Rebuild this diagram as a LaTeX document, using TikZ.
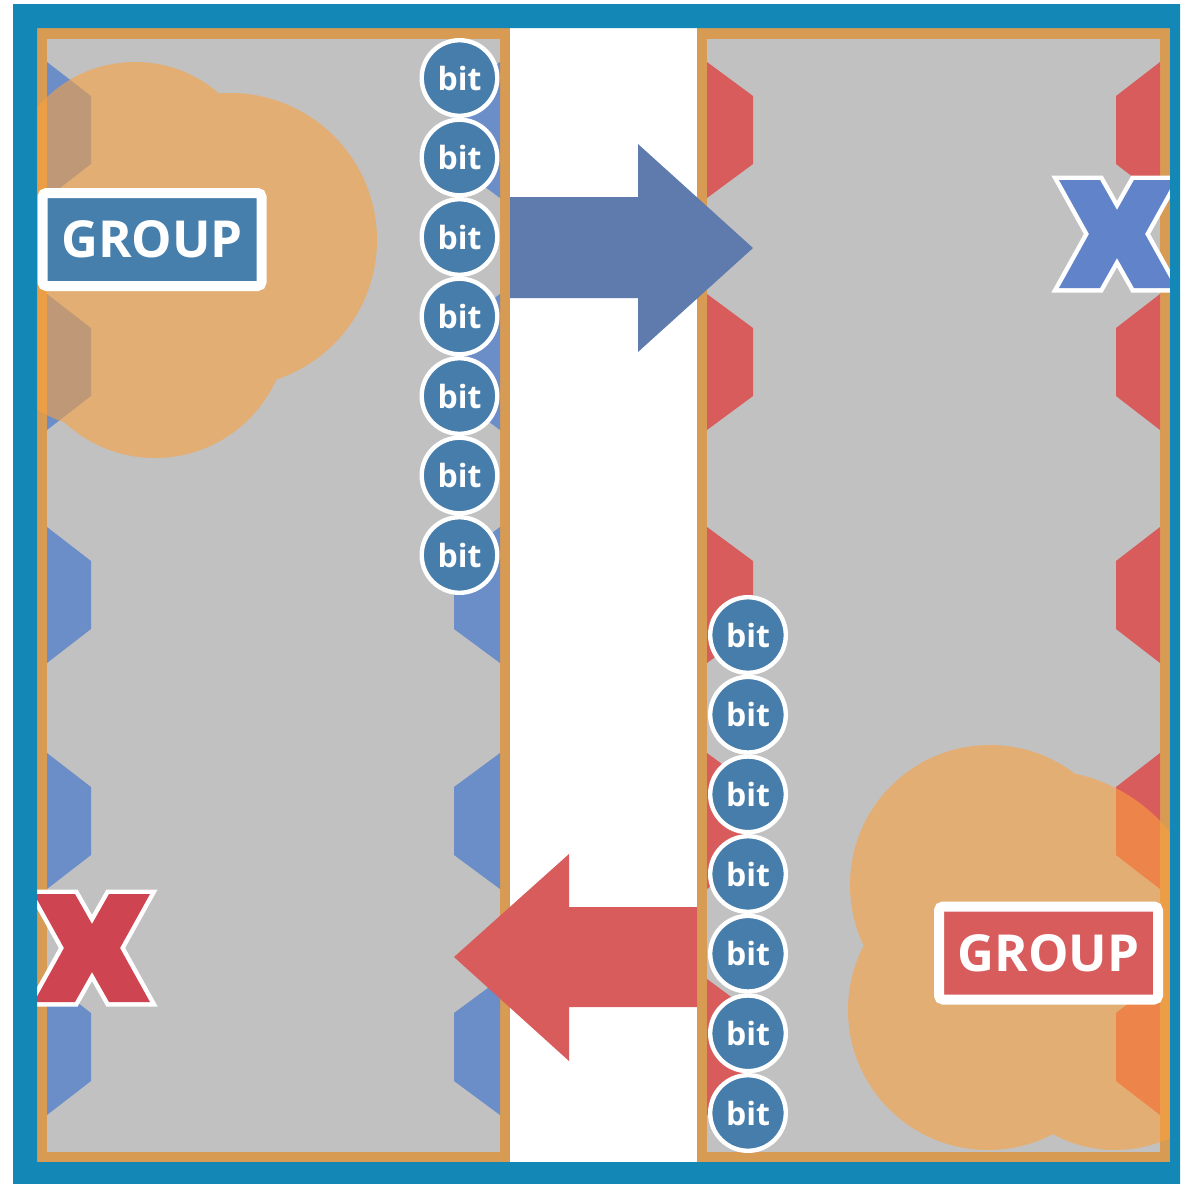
\documentclass[tikz,border=0pt]{standalone}
\usepackage{fontspec}
\setmainfont{Open Sans}
\definecolor{rahmenblau}{HTML}{1388B7}
\definecolor{randorange}{HTML}{D89B54}
\definecolor{grau}{HTML}{C1C1C1}
\definecolor{hexblau}{HTML}{6B8EC9}
\definecolor{hexrot}{HTML}{D95C5C}
\definecolor{bitblau}{HTML}{467DAB}
\definecolor{gruppeblau}{HTML}{477FAC}
\definecolor{grupperot}{HTML}{D95C5C}
\definecolor{pfeilblau}{HTML}{5F7BAE}
\definecolor{pfeilrot}{HTML}{D95C5C}
\definecolor{kreuzblau}{HTML}{6183C9}
\definecolor{kreuzrot}{HTML}{CE4450}
\definecolor{wolke}{HTML}{FCA13D}

\begin{document}
\begin{tikzpicture}[x=0.5pt,y=-0.5pt,
	bitknoten/.style={circle,fill=bitblau,draw=white,line width=2.2pt,minimum size=37.8pt,inner sep=0pt,text=white,font=\fontsize{16}{16}\selectfont\bfseries},
	gruppe/.style={draw=white,line width=5pt,rounded corners=2pt,minimum width=109.5pt,minimum height=46.5pt,inner sep=0pt,text=white,font=\fontsize{25.5}{25.5}\selectfont\bfseries}]

\useasboundingbox (0,0) rectangle (1180,1184);
\fill[white] (0,0) rectangle (1180,1184);

% Felder
\fill[color=randorange] (37,28) rectangle (510,1162);
\fill[color=grau] (47,39) rectangle (500,1152);
\fill[color=randorange] (697,28) rectangle (1170,1162);
\fill[color=grau] (707,39) rectangle (1160,1152);

\def\zacke#1#2#3#4{
	\fill[color=#4] (#1,#2-68) -- (#1+#3,#2-34) -- (#1+#3,#2+34) -- (#1,#2+68) -- cycle;
}
\def\zacken#1{
	\zacke{47}{#1}{44}{hexblau}
	\zacke{500}{#1}{-46}{hexblau}
	\zacke{707}{#1}{46}{hexrot}
	\zacke{1160}{#1}{-44}{hexrot}
}
\zacken{130}
\zacken{362}
\zacken{595}
\zacken{821}
\zacken{1047}

% Wolken
\begin{scope}
	\clip (37,28) rectangle (510,1162);
	\fill[color=wolke,fill opacity=0.58] (135,190) circle[radius=128] (230,240) circle[radius=147]
		(155,325) circle[radius=133] (110,290) circle[radius=140];
\end{scope}
\begin{scope}
	\clip (697,28) rectangle (1170,1162);
	\fill[color=wolke,fill opacity=0.58] (990,885) circle[radius=140] (988,1010) circle[radius=140]
		(1040,937) circle[radius=167] (1115,1020) circle[radius=130];
\end{scope}

% Pfeile
\fill[color=pfeilblau] (510,197) -- (638,197) -- (638,144) -- (753,248) -- (638,352) -- (638,298) -- (510,298) -- cycle;
\fill[color=pfeilrot] (697,907) -- (569,907) -- (569,854) -- (454,957) -- (569,1061) -- (569,1007) -- (697,1007) -- cycle;

% Gruppen
\node[gruppe,fill=gruppeblau] (gruppeL) at (152,239.5) {GROUP};
\node[gruppe,fill=grupperot] (gruppeR) at (1048.5,953) {GROUP};

% Bits
\def\bitkreis#1#2{
	\node[bitknoten] (#1) at #2 {bit};
}
\bitkreis{bitL1}{(459.5,78)}
\bitkreis{bitL2}{(459.5,157.5)}
\bitkreis{bitL3}{(459.5,237)}
\bitkreis{bitL4}{(459.5,316.5)}
\bitkreis{bitL5}{(459.5,396)}
\bitkreis{bitL6}{(459.5,475.5)}
\bitkreis{bitL7}{(459.5,555)}
\bitkreis{bitR1}{(748,635)}
\bitkreis{bitR2}{(748,714.7)}
\bitkreis{bitR3}{(748,794.3)}
\bitkreis{bitR4}{(748,874)}
\bitkreis{bitR5}{(748,953.7)}
\bitkreis{bitR6}{(748,1033.3)}
\bitkreis{bitR7}{(748,1113)}

% Kreuze
\def\kreuz#1#2{
	\fill[color=#2,shift={#1},preaction={draw=white,line width=4.5pt}]
	(-58,-54) -- (-17,-54) -- (0,-24) -- (17,-54) -- (58,-54) -- (28,0) -- (58,54)
	-- (17,54) -- (0,24) -- (-17,54) -- (-58,54) -- (-28,0) -- cycle;
}
\kreuz{(92,948)}{kreuzrot}
\kreuz{(1117,234)}{kreuzblau}

% Rahmen
\fill[color=rahmenblau,even odd rule] (13,4) rectangle (1180,1184) (37,28) rectangle (1170,1162);

\end{tikzpicture}
\end{document}
